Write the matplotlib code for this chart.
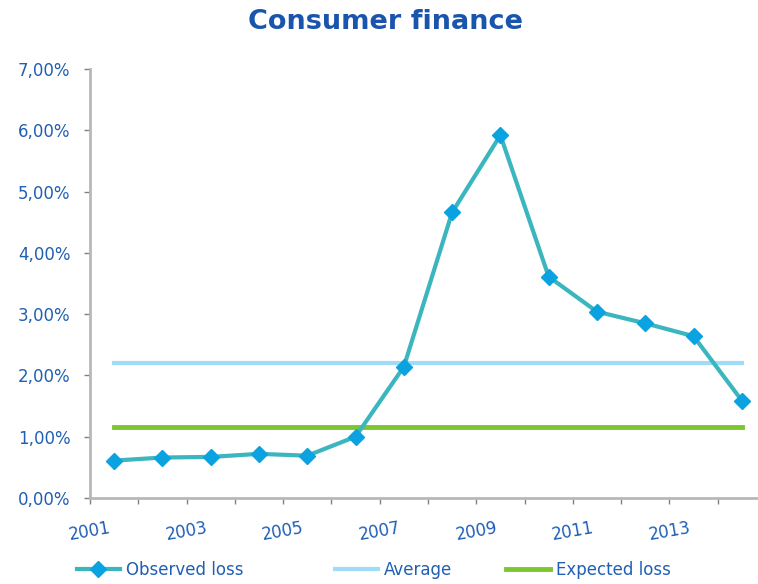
import matplotlib.pyplot as plt
import numpy as np

years = [2001, 2002, 2003, 2004, 2005, 2006, 2007, 2008, 2009, 2010, 2011, 2012, 2013, 2014]
observed = [0.61, 0.66, 0.67, 0.72, 0.69, 1.00, 2.14, 4.66, 5.92, 3.61, 3.04, 2.85, 2.64, 1.59]
average = [2.20] * 14
expected = [1.16] * 14

blue_txt = '#1f5fb4'
gray = '#b8b8b8'

fig = plt.figure(figsize=(7.58, 5.84), dpi=100)
ax = fig.add_axes([0.1187, 0.1473, 0.8918, 0.7346])

# categories sit between tick marks (excel style)
x = np.arange(len(years)) + 0.5
l_avg, = ax.plot(x, average, color='#9fdcf7', lw=3, label='Average', zorder=2)
l_exp, = ax.plot(x, expected, color='#7cc62f', lw=3.5, label='Expected loss', zorder=2)
l_obs, = ax.plot(x, observed, color='#3bb5be', lw=3, marker='D', markersize=8,
                 markerfacecolor='#0aa2e0', markeredgecolor='#0aa2e0',
                 label='Observed loss', zorder=3)

ax.set_xlim(0, len(years))
ax.set_ylim(0, 7)
ax.set_yticks(np.arange(0, 8, 1))
ax.set_yticklabels([f'{v:.2f}%'.replace('.', ',') for v in range(8)])
ax.set_xticks(np.arange(0, len(years), 2))
ax.set_xticklabels([str(y) for y in years[::2]], rotation=10)
ax.set_xticks(np.arange(0, len(years) + 1), minor=True)

for s in ['top', 'right']:
    ax.spines[s].set_visible(False)
for s in ['left', 'bottom']:
    ax.spines[s].set_color(gray)
    ax.spines[s].set_linewidth(2)

ax.tick_params(axis='both', which='both', color='#808080', length=4, width=1,
               labelcolor=blue_txt, labelsize=12)
ax.tick_params(axis='x', which='major', pad=11)
ax.tick_params(axis='y', pad=10)

fig.text(0.508, 0.962, 'Consumer finance', ha='center', va='center',
         fontsize=19.5, fontweight='bold', color='#1a55ad')

# legend entries placed one by one, like the excel layout
for line, xpos in [(l_obs, 0.101), (l_avg, 0.442), (l_exp, 0.668)]:
    leg = fig.legend([line], [line.get_label()], loc='center left',
                     bbox_to_anchor=(xpos, 0.024), frameon=False, fontsize=12,
                     handlelength=2.6, handletextpad=0.35, borderaxespad=0,
                     borderpad=0)
    for t in leg.get_texts():
        t.set_color(blue_txt)

fig.savefig('out.png', dpi=100)
